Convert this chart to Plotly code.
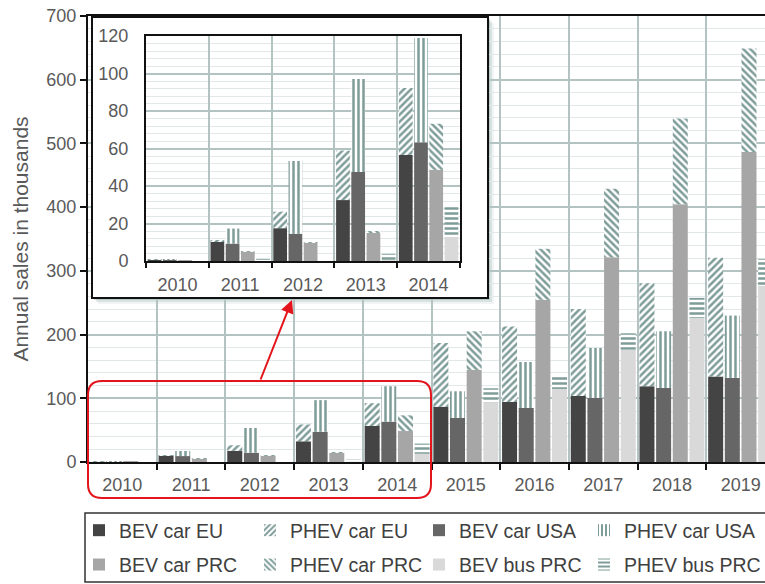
import plotly.graph_objects as go

# ---- data (annual sales, thousands) ----
years = ["2010", "2011", "2012", "2013", "2014", "2015", "2016", "2017", "2018", "2019"]
inset_years = years[:5]

bev_car_eu = [0.8, 10.5, 17.5, 32.5, 56.6, 86.9, 94.2, 103.7, 118.8, 134.0]
phev_car_eu = [0.1, 0.3, 8.8, 26.4, 35.7, 100.0, 118.4, 136.6, 161.8, 186.4]
bev_car_usa = [0.6, 9.3, 14.6, 47.5, 63.4, 69.1, 84.8, 100.5, 116.2, 132.0]
phev_car_usa = [0.2, 8.0, 38.8, 49.6, 55.5, 41.9, 72.2, 78.5, 89.0, 97.8]
bev_car_prc = [0.3, 4.8, 9.6, 15.0, 48.6, 144.5, 254.5, 321.5, 404.5, 486.5]
phev_car_prc = [0.0, 0.1, 0.3, 0.5, 24.6, 60.7, 80.1, 107.3, 134.6, 162.3]
bev_bus_prc = [0.0, 0.5, 0.2, 0.5, 12.9, 93.7, 114.7, 176.0, 226.0, 277.0]
phev_bus_prc = [0.0, 0.7, 0.2, 3.3, 16.0, 22.0, 19.3, 26.0, 31.6, 41.8]

y_ticks_main = [0, 100, 200, 300, 400, 500, 600, 700]
y_ticks_inset = [0, 20, 40, 60, 80, 100, 120]

# ---- styling ----
FONT = "Liberation Sans, Arial, sans-serif"
TICK_COLOR = "#595959"
HATCH = "#7f9d98"
GRID = "#b3c3c2"
MINOR_GRID = "#e1e8e7"
RED = "#e3141c"

# key, label, BEV values, PHEV values, BEV colour, PHEV hatch, legend columns
groups = [
    ("eu", "car EU", bev_car_eu, phev_car_eu, "#444444", "/", "legend", "legend2"),
    ("usa", "car USA", bev_car_usa, phev_car_usa, "#666666", "|", "legend3", "legend4"),
    ("prc", "car PRC", bev_car_prc, phev_car_prc, "#a6a6a6", "\\", "legend", "legend2"),
    ("bus", "bus PRC", bev_bus_prc, phev_bus_prc, "#d9d9d9", "-", "legend3", "legend4"),
]

# figure geometry (pixels)
FIG_W, FIG_H = 765, 584
L, T, B = 88, 16, 462
PW, PH = FIG_W - L, B - T


def px(x):
    return (x - L) / PW


def py(y):
    return (B - y) / PH


fig = go.Figure()


def add_bars(xvals, bev, phev, key, label, color, shape, leg_b, leg_p, xa, ya, show):
    fig.add_trace(go.Bar(
        x=xvals, y=bev, name="BEV " + label, offsetgroup=key,
        marker=dict(color=color, line=dict(width=0)),
        xaxis=xa, yaxis=ya, showlegend=show, legend=leg_b,
        legendgroup="bev_" + key,
    ))
    fig.add_trace(go.Bar(
        x=xvals, y=phev, base=bev, name="PHEV " + label, offsetgroup=key,
        marker=dict(color="white", line=dict(width=0),
                    pattern=dict(shape=shape, fgcolor=HATCH, bgcolor="white",
                                 size=5, solidity=0.5, fillmode="replace")),
        xaxis=xa, yaxis=ya, showlegend=show, legend=leg_p,
        legendgroup="phev_" + key,
    ))


# main chart
for key, label, bev, phev, color, shape, leg_b, leg_p in groups:
    add_bars(years, bev, phev, key, label, color, shape, leg_b, leg_p, "x", "y", True)

# empty placeholder trace so the white inset panel gets its own subplot
fig.add_trace(go.Scatter(x=[0.5], y=[0.5], mode="none", xaxis="x2", yaxis="y2",
                         showlegend=False, hoverinfo="skip"))

# zoomed inset (first five years)
for key, label, bev, phev, color, shape, leg_b, leg_p in groups:
    add_bars(inset_years, bev[:5], phev[:5], key, label, color, shape, leg_b, leg_p,
             "x3", "y3", False)

tickfont = dict(family=FONT, size=18, color=TICK_COLOR)

# inset frame (white panel with border and soft shadow)
box_x0, box_x1, box_y0, box_y1 = 92, 488, 17, 298
inset_x0, inset_x1, inset_y0, inset_y1 = 146, 460, 36, 261

shapes = []
for off, alpha in [(6, 0.10), (4, 0.18), (2, 0.30)]:
    shapes.append(dict(
        type="rect", xref="paper", yref="paper", layer="below",
        x0=px(box_x0 + off), x1=px(box_x1 + off), y0=py(box_y1 + off), y1=py(box_y0 + off),
        line=dict(width=0), fillcolor=f"rgba(110,145,140,{alpha})",
    ))
shapes.append(dict(
    type="rect", xref="paper", yref="paper", layer="above",
    x0=px(box_x0), x1=px(box_x1), y0=py(box_y1), y1=py(box_y0),
    line=dict(color="#111111", width=2), fillcolor="rgba(0,0,0,0)",
))


def rounded_rect(x0, y0, x1, y1, r):
    pts = [
        f"M{px(x0 + r)},{py(y0)}",
        f"L{px(x1 - r)},{py(y0)}",
        f"Q{px(x1)},{py(y0)} {px(x1)},{py(y0 + r)}",
        f"L{px(x1)},{py(y1 - r)}",
        f"Q{px(x1)},{py(y1)} {px(x1 - r)},{py(y1)}",
        f"L{px(x0 + r)},{py(y1)}",
        f"Q{px(x0)},{py(y1)} {px(x0)},{py(y1 - r)}",
        f"L{px(x0)},{py(y0 + r)}",
        f"Q{px(x0)},{py(y0)} {px(x0 + r)},{py(y0)}",
        "Z",
    ]
    return " ".join(pts)


# highlight of the zoomed period on the main axis
shapes.append(dict(
    type="path", xref="paper", yref="paper", layer="above",
    path=rounded_rect(88, 381, 431, 498, 14),
    line=dict(color=RED, width=2), fillcolor="rgba(0,0,0,0)",
))

# legend frame
shapes.append(dict(
    type="rect", xref="paper", yref="paper", layer="above",
    x0=px(85), x1=px(790), y0=py(582), y1=py(513),
    line=dict(color="#333333", width=1.5), fillcolor="rgba(0,0,0,0)",
))


def legend_column(x_left):
    return dict(
        orientation="v", xanchor="left", yanchor="top",
        x=px(x_left), y=py(511), tracegroupgap=6,
        font=dict(family=FONT, size=19.5, color="#404040"),
        bgcolor="rgba(0,0,0,0)", borderwidth=0, traceorder="grouped",
    )


fig.update_layout(
    width=FIG_W, height=FIG_H,
    margin=dict(l=L, r=0, t=T, b=FIG_H - B, pad=0, autoexpand=False),
    paper_bgcolor="white", plot_bgcolor="white",
    barmode="group", bargap=0.03, bargroupgap=0.1,
    font=dict(family=FONT, color=TICK_COLOR),
    shapes=shapes,
    legend=legend_column(79),
    legend2=legend_column(250),
    legend3=legend_column(419),
    legend4=legend_column(584),
    annotations=[dict(
        xref="paper", yref="paper", x=px(292), y=py(300),
        ax=-32, ay=81, text="", showarrow=True,
        arrowhead=2, arrowsize=1.3, arrowwidth=2, arrowcolor=RED, standoff=0,
    )],
    # main axes
    xaxis=dict(
        type="category", categoryorder="array", categoryarray=years,
        range=[-0.5, -0.5 + PW / 68.7], tickson="boundaries",
        ticks="outside", ticklen=6, tickwidth=2, tickcolor="#111111",
        ticklabelstandoff=5,
        showline=True, linecolor="#111111", linewidth=2, mirror=True,
        showgrid=True, gridcolor=GRID, gridwidth=1.5,
        tickfont=tickfont, fixedrange=True,
    ),
    yaxis=dict(
        range=[0, 700], tickvals=y_ticks_main,
        ticks="outside", ticklen=6, tickwidth=2, tickcolor="#111111",
        showline=True, linecolor="#111111", linewidth=2,
        showgrid=True, gridcolor=GRID, gridwidth=1.5, zeroline=False,
        minor=dict(dtick=20, showgrid=True, gridcolor=MINOR_GRID, gridwidth=1),
        tickfont=tickfont,
        title=dict(text="Annual sales in thousands", standoff=12,
                   font=dict(family=FONT, size=21, color=TICK_COLOR)),
        fixedrange=True,
    ),
    # white panel behind the inset
    xaxis2=dict(domain=[px(box_x0), px(box_x1)], anchor="y2", visible=False,
                range=[0, 1], fixedrange=True),
    yaxis2=dict(domain=[py(box_y1), py(box_y0)], anchor="x2", visible=False,
                range=[0, 1], fixedrange=True),
    # inset axes
    xaxis3=dict(
        domain=[px(inset_x0), px(inset_x1)], anchor="y3",
        type="category", categoryorder="array", categoryarray=inset_years,
        range=[-0.5, 4.5], tickson="boundaries",
        ticks="outside", ticklen=5, tickwidth=2, tickcolor="#111111",
        ticklabelstandoff=6,
        showline=True, linecolor="#111111", linewidth=2, mirror=True,
        showgrid=True, gridcolor=GRID, gridwidth=1.5,
        tickfont=tickfont, fixedrange=True,
    ),
    yaxis3=dict(
        domain=[py(inset_y1), py(inset_y0)], anchor="x3",
        range=[0, 120], tickvals=y_ticks_inset, ticklabelstandoff=12,
        showline=True, linecolor="#111111", linewidth=2, mirror=True,
        showgrid=True, gridcolor=GRID, gridwidth=1.5, zeroline=False,
        minor=dict(dtick=4, showgrid=True, gridcolor=MINOR_GRID, gridwidth=1),
        tickfont=tickfont, fixedrange=True,
    ),
)

fig.write_html("out.html", config={"displayModeBar": False})
